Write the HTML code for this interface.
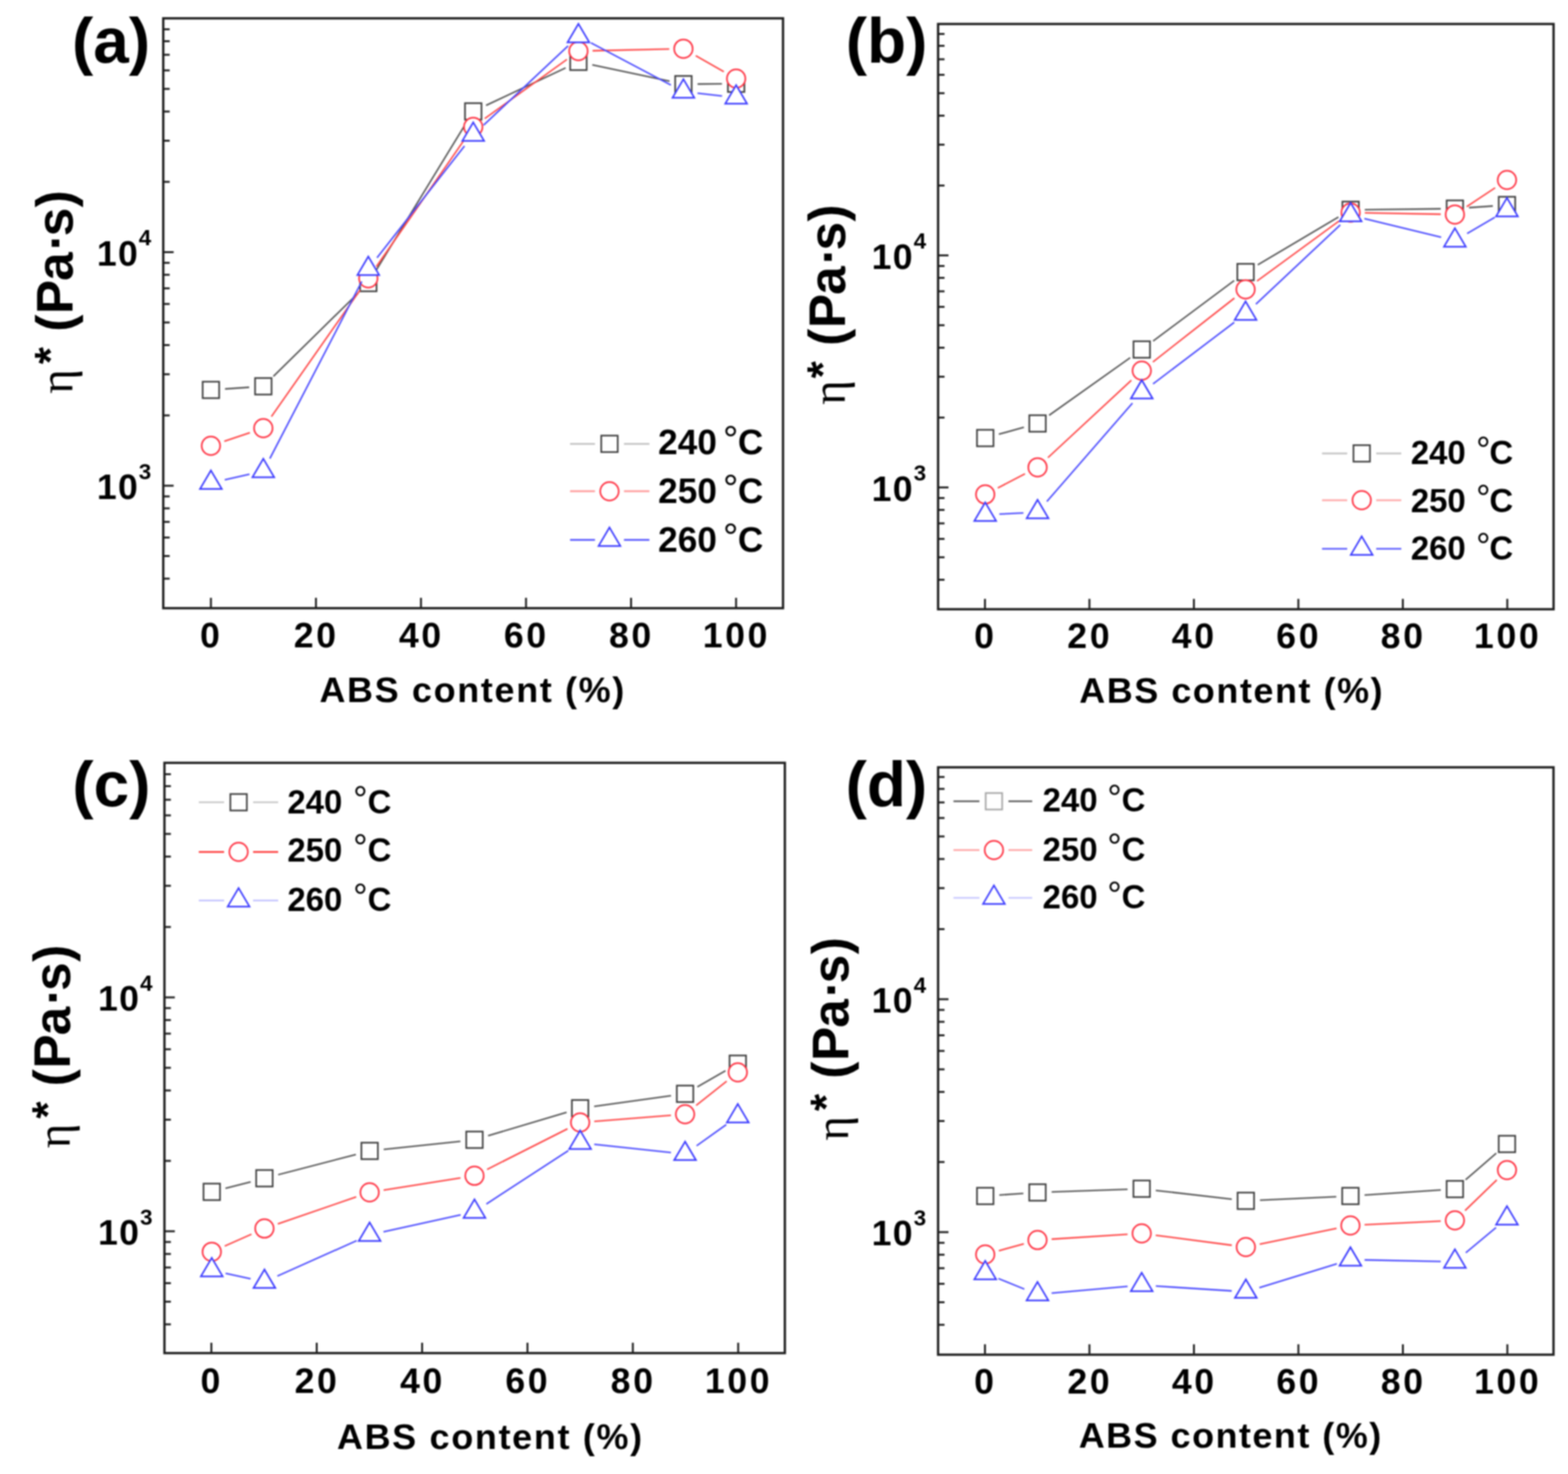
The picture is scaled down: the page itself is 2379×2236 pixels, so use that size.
<!DOCTYPE html>
<html><head><meta charset="utf-8"><title>Complex viscosity vs ABS content</title>
<style>
html,body{margin:0;padding:0;background:#fff;}
body{width:2379px;height:2236px;overflow:hidden;}
svg{display:block;filter:blur(1px);}
text{font-family:'Liberation Sans', Arial, sans-serif;fill:#000;}
</style></head>
<body>
<svg width="2379" height="2236" viewBox="0 0 2379 2236">
<rect x="0" y="0" width="2379" height="2236" fill="#fff"/>
<g id="panel-a">
<line x1="341.45" y1="590.02" x2="378.05" y2="587.48" stroke="#555555" stroke-width="2.3"/>
<line x1="414.83" y1="570.93" x2="543.47" y2="444.47" stroke="#555555" stroke-width="2.3"/>
<line x1="570.01" y1="411.06" x2="706.79" y2="187.34" stroke="#555555" stroke-width="2.3"/>
<line x1="737.45" y1="159.84" x2="858.15" y2="102.96" stroke="#555555" stroke-width="2.3"/>
<line x1="898.63" y1="98.28" x2="1015.87" y2="123.22" stroke="#555555" stroke-width="2.3"/>
<line x1="1058.4" y1="127.51" x2="1095.4" y2="127.19" stroke="#555555" stroke-width="2.3"/>
<rect x="307.5" y="579" width="25" height="25" fill="#fff" stroke="#404040" stroke-width="2.5"/>
<rect x="387" y="573.5" width="25" height="25" fill="#fff" stroke="#404040" stroke-width="2.5"/>
<rect x="546.3" y="416.9" width="25" height="25" fill="#fff" stroke="#404040" stroke-width="2.5"/>
<rect x="705.5" y="156.5" width="25" height="25" fill="#fff" stroke="#404040" stroke-width="2.5"/>
<rect x="865.1" y="81.3" width="25" height="25" fill="#fff" stroke="#404040" stroke-width="2.5"/>
<rect x="1024.4" y="115.2" width="25" height="25" fill="#fff" stroke="#404040" stroke-width="2.5"/>
<rect x="1104.4" y="114.5" width="25" height="25" fill="#fff" stroke="#404040" stroke-width="2.5"/>
<line x1="340.38" y1="669.35" x2="379.12" y2="656.35" stroke="#ff4646" stroke-width="2.3"/>
<line x1="411.84" y1="631.89" x2="546.46" y2="439.81" stroke="#ff4646" stroke-width="2.3"/>
<line x1="571.05" y1="404.53" x2="705.75" y2="210.17" stroke="#ff4646" stroke-width="2.3"/>
<line x1="735.44" y1="179.93" x2="860.16" y2="90.07" stroke="#ff4646" stroke-width="2.3"/>
<line x1="899.09" y1="77.01" x2="1015.41" y2="74.39" stroke="#ff4646" stroke-width="2.3"/>
<line x1="1055.6" y1="84.51" x2="1098.2" y2="108.69" stroke="#ff4646" stroke-width="2.3"/>
<circle cx="320" cy="676.2" r="14.0" fill="#fff" stroke="#ff3444" stroke-width="2.5"/>
<circle cx="399.5" cy="649.5" r="14.0" fill="#fff" stroke="#ff3444" stroke-width="2.5"/>
<circle cx="558.8" cy="422.2" r="14.0" fill="#fff" stroke="#ff3444" stroke-width="2.5"/>
<circle cx="718" cy="192.5" r="14.0" fill="#fff" stroke="#ff3444" stroke-width="2.5"/>
<circle cx="877.6" cy="77.5" r="14.0" fill="#fff" stroke="#ff3444" stroke-width="2.5"/>
<circle cx="1036.9" cy="73.9" r="14.0" fill="#fff" stroke="#ff3444" stroke-width="2.5"/>
<circle cx="1116.9" cy="119.3" r="14.0" fill="#fff" stroke="#ff3444" stroke-width="2.5"/>
<line x1="340.98" y1="727.8" x2="378.52" y2="719.4" stroke="#4a4aff" stroke-width="2.3"/>
<line x1="409.41" y1="695.62" x2="548.89" y2="427.08" stroke="#4a4aff" stroke-width="2.3"/>
<line x1="572.05" y1="391.07" x2="704.75" y2="221.43" stroke="#4a4aff" stroke-width="2.3"/>
<line x1="733.69" y1="189.8" x2="861.91" y2="69.7" stroke="#4a4aff" stroke-width="2.3"/>
<line x1="896.62" y1="65.03" x2="1017.88" y2="128.97" stroke="#4a4aff" stroke-width="2.3"/>
<line x1="1058.27" y1="141.4" x2="1095.53" y2="145.6" stroke="#4a4aff" stroke-width="2.3"/>
<polygon points="320,713.7 303.5,741.7 336.5,741.7" fill="#fff" stroke="#3c3cff" stroke-width="2.5" stroke-linejoin="miter"/>
<polygon points="399.5,695.9 383,723.9 416,723.9" fill="#fff" stroke="#3c3cff" stroke-width="2.5" stroke-linejoin="miter"/>
<polygon points="558.8,389.2 542.3,417.2 575.3,417.2" fill="#fff" stroke="#3c3cff" stroke-width="2.5" stroke-linejoin="miter"/>
<polygon points="718,185.7 701.5,213.7 734.5,213.7" fill="#fff" stroke="#3c3cff" stroke-width="2.5" stroke-linejoin="miter"/>
<polygon points="877.6,36.2 861.1,64.2 894.1,64.2" fill="#fff" stroke="#3c3cff" stroke-width="2.5" stroke-linejoin="miter"/>
<polygon points="1036.9,120.2 1020.4,148.2 1053.4,148.2" fill="#fff" stroke="#3c3cff" stroke-width="2.5" stroke-linejoin="miter"/>
<polygon points="1116.9,129.2 1100.4,157.2 1133.4,157.2" fill="#fff" stroke="#3c3cff" stroke-width="2.5" stroke-linejoin="miter"/>
<rect x="247.7" y="27.8" width="940.3" height="894.8" fill="none" stroke="#1e1e1e" stroke-width="3.5"/>
<line x1="248.95" y1="877.79" x2="257.45" y2="877.79" stroke="#1e1e1e" stroke-width="2.9"/>
<line x1="248.95" y1="843.45" x2="257.45" y2="843.45" stroke="#1e1e1e" stroke-width="2.9"/>
<line x1="248.95" y1="815.4" x2="257.45" y2="815.4" stroke="#1e1e1e" stroke-width="2.9"/>
<line x1="248.95" y1="791.68" x2="257.45" y2="791.68" stroke="#1e1e1e" stroke-width="2.9"/>
<line x1="248.95" y1="771.14" x2="257.45" y2="771.14" stroke="#1e1e1e" stroke-width="2.9"/>
<line x1="248.95" y1="753.01" x2="257.45" y2="753.01" stroke="#1e1e1e" stroke-width="2.9"/>
<line x1="248.95" y1="736.8" x2="263.45" y2="736.8" stroke="#1e1e1e" stroke-width="2.9"/>
<line x1="248.95" y1="630.15" x2="257.45" y2="630.15" stroke="#1e1e1e" stroke-width="2.9"/>
<line x1="248.95" y1="567.76" x2="257.45" y2="567.76" stroke="#1e1e1e" stroke-width="2.9"/>
<line x1="248.95" y1="523.49" x2="257.45" y2="523.49" stroke="#1e1e1e" stroke-width="2.9"/>
<line x1="248.95" y1="489.15" x2="257.45" y2="489.15" stroke="#1e1e1e" stroke-width="2.9"/>
<line x1="248.95" y1="461.1" x2="257.45" y2="461.1" stroke="#1e1e1e" stroke-width="2.9"/>
<line x1="248.95" y1="437.38" x2="257.45" y2="437.38" stroke="#1e1e1e" stroke-width="2.9"/>
<line x1="248.95" y1="416.84" x2="257.45" y2="416.84" stroke="#1e1e1e" stroke-width="2.9"/>
<line x1="248.95" y1="398.71" x2="257.45" y2="398.71" stroke="#1e1e1e" stroke-width="2.9"/>
<line x1="248.95" y1="382.5" x2="263.45" y2="382.5" stroke="#1e1e1e" stroke-width="2.9"/>
<line x1="248.95" y1="275.85" x2="257.45" y2="275.85" stroke="#1e1e1e" stroke-width="2.9"/>
<line x1="248.95" y1="213.46" x2="257.45" y2="213.46" stroke="#1e1e1e" stroke-width="2.9"/>
<line x1="248.95" y1="169.19" x2="257.45" y2="169.19" stroke="#1e1e1e" stroke-width="2.9"/>
<line x1="248.95" y1="134.85" x2="257.45" y2="134.85" stroke="#1e1e1e" stroke-width="2.9"/>
<line x1="248.95" y1="106.8" x2="257.45" y2="106.8" stroke="#1e1e1e" stroke-width="2.9"/>
<line x1="248.95" y1="83.08" x2="257.45" y2="83.08" stroke="#1e1e1e" stroke-width="2.9"/>
<line x1="248.95" y1="62.54" x2="257.45" y2="62.54" stroke="#1e1e1e" stroke-width="2.9"/>
<line x1="248.95" y1="44.41" x2="257.45" y2="44.41" stroke="#1e1e1e" stroke-width="2.9"/>
<line x1="320" y1="921.35" x2="320" y2="906.85" stroke="#1e1e1e" stroke-width="2.9"/>
<text x="320.5" y="982.3" font-size="54" font-weight="bold" text-anchor="middle" letter-spacing="4.0" >0</text>
<line x1="479.36" y1="921.35" x2="479.36" y2="906.85" stroke="#1e1e1e" stroke-width="2.9"/>
<text x="479.86" y="982.3" font-size="54" font-weight="bold" text-anchor="middle" letter-spacing="4.0" >20</text>
<line x1="638.72" y1="921.35" x2="638.72" y2="906.85" stroke="#1e1e1e" stroke-width="2.9"/>
<text x="639.22" y="982.3" font-size="54" font-weight="bold" text-anchor="middle" letter-spacing="4.0" >40</text>
<line x1="798.08" y1="921.35" x2="798.08" y2="906.85" stroke="#1e1e1e" stroke-width="2.9"/>
<text x="798.58" y="982.3" font-size="54" font-weight="bold" text-anchor="middle" letter-spacing="4.0" >60</text>
<line x1="957.44" y1="921.35" x2="957.44" y2="906.85" stroke="#1e1e1e" stroke-width="2.9"/>
<text x="957.94" y="982.3" font-size="54" font-weight="bold" text-anchor="middle" letter-spacing="4.0" >80</text>
<line x1="1116.8" y1="921.35" x2="1116.8" y2="906.85" stroke="#1e1e1e" stroke-width="2.9"/>
<text x="1117.3" y="982.3" font-size="54" font-weight="bold" text-anchor="middle" letter-spacing="4.0" >100</text>
<text x="146.9" y="757.1" font-size="54" font-weight="bold" text-anchor="start" letter-spacing="2">10</text>
<text x="210.59" y="726.6" font-size="34" font-weight="bold" text-anchor="start" >3</text>
<text x="146.9" y="402.8" font-size="54" font-weight="bold" text-anchor="start" letter-spacing="2">10</text>
<text x="210.59" y="372.3" font-size="34" font-weight="bold" text-anchor="start" >4</text>
<text x="109.3" y="94.6" font-size="97" font-weight="bold" text-anchor="start" >(a)</text>
<text transform="translate(109.5,596.1) rotate(-90)" font-size="78" font-weight="bold"><tspan x="-1.1" font-family="'Liberation Serif', serif" font-weight="normal" font-size="71">η</tspan><tspan x="43.6" dy="-10.6" font-size="67">*</tspan><tspan x="70" dy="10.6"> </tspan><tspan x="92.8">(</tspan><tspan x="119.7">P</tspan><tspan x="170.2">a</tspan><tspan x="216.4">·</tspan><tspan x="237.5">s</tspan><tspan x="281.6">)</tspan></text>
<text x="484.64" y="1064.6" font-size="54.5" font-weight="bold" text-anchor="start" letter-spacing="2.55">ABS content (%)</text>
<line x1="864.9" y1="673.3" x2="902.7" y2="673.3" stroke="#c4c4c4" stroke-width="2.6999999999999997"/>
<line x1="946.7" y1="673.3" x2="985.3" y2="673.3" stroke="#c4c4c4" stroke-width="2.6999999999999997"/>
<rect x="912.2" y="660.8" width="25" height="25" fill="#fff" stroke="#404040" stroke-width="2.5"/>
<text y="689.2" font-size="53.4" font-weight="bold" ><tspan x="998.53">240 </tspan><tspan x="1097.02" font-size="58" font-weight="normal" dy="-2.9">°</tspan><tspan x="1119.51" dy="2.9">C</tspan></text>
<line x1="864.9" y1="745.2" x2="902.7" y2="745.2" stroke="#ff9a9a" stroke-width="2.6999999999999997"/>
<line x1="946.7" y1="745.2" x2="985.3" y2="745.2" stroke="#ff9a9a" stroke-width="2.6999999999999997"/>
<circle cx="924.7" cy="745.2" r="14.0" fill="#fff" stroke="#ff3444" stroke-width="2.5"/>
<text y="763" font-size="53.4" font-weight="bold" ><tspan x="998.53">250 </tspan><tspan x="1097.02" font-size="58" font-weight="normal" dy="-2.9">°</tspan><tspan x="1119.51" dy="2.9">C</tspan></text>
<line x1="864.9" y1="819" x2="902.7" y2="819" stroke="#4a4aff" stroke-width="2.6999999999999997"/>
<line x1="946.7" y1="819" x2="985.3" y2="819" stroke="#4a4aff" stroke-width="2.6999999999999997"/>
<polygon points="924.7,800.2 908.2,828.2 941.2,828.2" fill="#fff" stroke="#3c3cff" stroke-width="2.5" stroke-linejoin="miter"/>
<text y="836.8" font-size="53.4" font-weight="bold" ><tspan x="998.53">260 </tspan><tspan x="1097.02" font-size="58" font-weight="normal" dy="-2.9">°</tspan><tspan x="1119.51" dy="2.9">C</tspan></text>
</g>
<g id="panel-b">
<line x1="1515.51" y1="658.73" x2="1553.49" y2="648.17" stroke="#555555" stroke-width="2.3"/>
<line x1="1591.73" y1="629.96" x2="1714.77" y2="542.64" stroke="#555555" stroke-width="2.3"/>
<line x1="1749.53" y1="517.34" x2="1872.57" y2="425.56" stroke="#555555" stroke-width="2.3"/>
<line x1="1908.3" y1="401.74" x2="2030.7" y2="329.26" stroke="#555555" stroke-width="2.3"/>
<line x1="2070.7" y1="318.06" x2="2185.9" y2="316.74" stroke="#555555" stroke-width="2.3"/>
<line x1="2228.85" y1="315.01" x2="2264.95" y2="312.49" stroke="#555555" stroke-width="2.3"/>
<rect x="1482.3" y="652" width="25" height="25" fill="#fff" stroke="#404040" stroke-width="2.5"/>
<rect x="1561.7" y="629.9" width="25" height="25" fill="#fff" stroke="#404040" stroke-width="2.5"/>
<rect x="1719.8" y="517.7" width="25" height="25" fill="#fff" stroke="#404040" stroke-width="2.5"/>
<rect x="1877.3" y="400.2" width="25" height="25" fill="#fff" stroke="#404040" stroke-width="2.5"/>
<rect x="2036.7" y="305.8" width="25" height="25" fill="#fff" stroke="#404040" stroke-width="2.5"/>
<rect x="2194.9" y="304" width="25" height="25" fill="#fff" stroke="#404040" stroke-width="2.5"/>
<rect x="2273.9" y="298.5" width="25" height="25" fill="#fff" stroke="#404040" stroke-width="2.5"/>
<line x1="1513.88" y1="740.2" x2="1555.12" y2="718.8" stroke="#ff4646" stroke-width="2.3"/>
<line x1="1589.97" y1="694.28" x2="1716.53" y2="576.92" stroke="#ff4646" stroke-width="2.3"/>
<line x1="1749.23" y1="549.05" x2="1872.87" y2="452.25" stroke="#ff4646" stroke-width="2.3"/>
<line x1="1907.16" y1="426.31" x2="2031.84" y2="335.19" stroke="#ff4646" stroke-width="2.3"/>
<line x1="2070.7" y1="322.89" x2="2185.9" y2="325.01" stroke="#ff4646" stroke-width="2.3"/>
<line x1="2225.32" y1="313.52" x2="2268.48" y2="284.88" stroke="#ff4646" stroke-width="2.3"/>
<circle cx="1494.8" cy="750.1" r="14.0" fill="#fff" stroke="#ff3444" stroke-width="2.5"/>
<circle cx="1574.2" cy="708.9" r="14.0" fill="#fff" stroke="#ff3444" stroke-width="2.5"/>
<circle cx="1732.3" cy="562.3" r="14.0" fill="#fff" stroke="#ff3444" stroke-width="2.5"/>
<circle cx="1889.8" cy="439" r="14.0" fill="#fff" stroke="#ff3444" stroke-width="2.5"/>
<circle cx="2049.2" cy="322.5" r="14.0" fill="#fff" stroke="#ff3444" stroke-width="2.5"/>
<circle cx="2207.4" cy="325.4" r="14.0" fill="#fff" stroke="#ff3444" stroke-width="2.5"/>
<circle cx="2286.4" cy="273" r="14.0" fill="#fff" stroke="#ff3444" stroke-width="2.5"/>
<line x1="1516.27" y1="779.92" x2="1552.73" y2="778.08" stroke="#4a4aff" stroke-width="2.3"/>
<line x1="1588.31" y1="760.78" x2="1718.19" y2="611.52" stroke="#4a4aff" stroke-width="2.3"/>
<line x1="1749.44" y1="582.32" x2="1872.66" y2="488.98" stroke="#4a4aff" stroke-width="2.3"/>
<line x1="1905.48" y1="461.29" x2="2033.52" y2="341.21" stroke="#4a4aff" stroke-width="2.3"/>
<line x1="2070.09" y1="331.58" x2="2186.51" y2="359.92" stroke="#4a4aff" stroke-width="2.3"/>
<line x1="2225.98" y1="354.18" x2="2267.82" y2="329.82" stroke="#4a4aff" stroke-width="2.3"/>
<polygon points="1494.8,762.2 1478.3,790.2 1511.3,790.2" fill="#fff" stroke="#3c3cff" stroke-width="2.5" stroke-linejoin="miter"/>
<polygon points="1574.2,758.2 1557.7,786.2 1590.7,786.2" fill="#fff" stroke="#3c3cff" stroke-width="2.5" stroke-linejoin="miter"/>
<polygon points="1732.3,576.5 1715.8,604.5 1748.8,604.5" fill="#fff" stroke="#3c3cff" stroke-width="2.5" stroke-linejoin="miter"/>
<polygon points="1889.8,457.2 1873.3,485.2 1906.3,485.2" fill="#fff" stroke="#3c3cff" stroke-width="2.5" stroke-linejoin="miter"/>
<polygon points="2049.2,307.7 2032.7,335.7 2065.7,335.7" fill="#fff" stroke="#3c3cff" stroke-width="2.5" stroke-linejoin="miter"/>
<polygon points="2207.4,346.2 2190.9,374.2 2223.9,374.2" fill="#fff" stroke="#3c3cff" stroke-width="2.5" stroke-linejoin="miter"/>
<polygon points="2286.4,300.2 2269.9,328.2 2302.9,328.2" fill="#fff" stroke="#3c3cff" stroke-width="2.5" stroke-linejoin="miter"/>
<rect x="1423.3" y="36.4" width="933.8" height="887.8" fill="none" stroke="#1e1e1e" stroke-width="3.5"/>
<line x1="1424.55" y1="879.47" x2="1433.05" y2="879.47" stroke="#1e1e1e" stroke-width="2.9"/>
<line x1="1424.55" y1="845.36" x2="1433.05" y2="845.36" stroke="#1e1e1e" stroke-width="2.9"/>
<line x1="1424.55" y1="817.49" x2="1433.05" y2="817.49" stroke="#1e1e1e" stroke-width="2.9"/>
<line x1="1424.55" y1="793.93" x2="1433.05" y2="793.93" stroke="#1e1e1e" stroke-width="2.9"/>
<line x1="1424.55" y1="773.51" x2="1433.05" y2="773.51" stroke="#1e1e1e" stroke-width="2.9"/>
<line x1="1424.55" y1="755.51" x2="1433.05" y2="755.51" stroke="#1e1e1e" stroke-width="2.9"/>
<line x1="1424.55" y1="739.4" x2="1439.05" y2="739.4" stroke="#1e1e1e" stroke-width="2.9"/>
<line x1="1424.55" y1="633.44" x2="1433.05" y2="633.44" stroke="#1e1e1e" stroke-width="2.9"/>
<line x1="1424.55" y1="571.45" x2="1433.05" y2="571.45" stroke="#1e1e1e" stroke-width="2.9"/>
<line x1="1424.55" y1="527.47" x2="1433.05" y2="527.47" stroke="#1e1e1e" stroke-width="2.9"/>
<line x1="1424.55" y1="493.36" x2="1433.05" y2="493.36" stroke="#1e1e1e" stroke-width="2.9"/>
<line x1="1424.55" y1="465.49" x2="1433.05" y2="465.49" stroke="#1e1e1e" stroke-width="2.9"/>
<line x1="1424.55" y1="441.93" x2="1433.05" y2="441.93" stroke="#1e1e1e" stroke-width="2.9"/>
<line x1="1424.55" y1="421.51" x2="1433.05" y2="421.51" stroke="#1e1e1e" stroke-width="2.9"/>
<line x1="1424.55" y1="403.51" x2="1433.05" y2="403.51" stroke="#1e1e1e" stroke-width="2.9"/>
<line x1="1424.55" y1="387.4" x2="1439.05" y2="387.4" stroke="#1e1e1e" stroke-width="2.9"/>
<line x1="1424.55" y1="281.44" x2="1433.05" y2="281.44" stroke="#1e1e1e" stroke-width="2.9"/>
<line x1="1424.55" y1="219.45" x2="1433.05" y2="219.45" stroke="#1e1e1e" stroke-width="2.9"/>
<line x1="1424.55" y1="175.47" x2="1433.05" y2="175.47" stroke="#1e1e1e" stroke-width="2.9"/>
<line x1="1424.55" y1="141.36" x2="1433.05" y2="141.36" stroke="#1e1e1e" stroke-width="2.9"/>
<line x1="1424.55" y1="113.49" x2="1433.05" y2="113.49" stroke="#1e1e1e" stroke-width="2.9"/>
<line x1="1424.55" y1="89.93" x2="1433.05" y2="89.93" stroke="#1e1e1e" stroke-width="2.9"/>
<line x1="1424.55" y1="69.51" x2="1433.05" y2="69.51" stroke="#1e1e1e" stroke-width="2.9"/>
<line x1="1424.55" y1="51.51" x2="1433.05" y2="51.51" stroke="#1e1e1e" stroke-width="2.9"/>
<line x1="1494.4" y1="922.95" x2="1494.4" y2="908.45" stroke="#1e1e1e" stroke-width="2.9"/>
<text x="1494.9" y="982.8" font-size="54" font-weight="bold" text-anchor="middle" letter-spacing="4.0" >0</text>
<line x1="1652.9" y1="922.95" x2="1652.9" y2="908.45" stroke="#1e1e1e" stroke-width="2.9"/>
<text x="1653.4" y="982.8" font-size="54" font-weight="bold" text-anchor="middle" letter-spacing="4.0" >20</text>
<line x1="1811.4" y1="922.95" x2="1811.4" y2="908.45" stroke="#1e1e1e" stroke-width="2.9"/>
<text x="1811.9" y="982.8" font-size="54" font-weight="bold" text-anchor="middle" letter-spacing="4.0" >40</text>
<line x1="1969.9" y1="922.95" x2="1969.9" y2="908.45" stroke="#1e1e1e" stroke-width="2.9"/>
<text x="1970.4" y="982.8" font-size="54" font-weight="bold" text-anchor="middle" letter-spacing="4.0" >60</text>
<line x1="2128.4" y1="922.95" x2="2128.4" y2="908.45" stroke="#1e1e1e" stroke-width="2.9"/>
<text x="2128.9" y="982.8" font-size="54" font-weight="bold" text-anchor="middle" letter-spacing="4.0" >80</text>
<line x1="2286.9" y1="922.95" x2="2286.9" y2="908.45" stroke="#1e1e1e" stroke-width="2.9"/>
<text x="2287.4" y="982.8" font-size="54" font-weight="bold" text-anchor="middle" letter-spacing="4.0" >100</text>
<text x="1322.5" y="759.7" font-size="54" font-weight="bold" text-anchor="start" letter-spacing="2">10</text>
<text x="1386.19" y="729.2" font-size="34" font-weight="bold" text-anchor="start" >3</text>
<text x="1322.5" y="407.7" font-size="54" font-weight="bold" text-anchor="start" letter-spacing="2">10</text>
<text x="1386.19" y="377.2" font-size="34" font-weight="bold" text-anchor="start" >4</text>
<text x="1283.2" y="94.6" font-size="97" font-weight="bold" text-anchor="start" >(b)</text>
<text transform="translate(1281.9,613) rotate(-90)" font-size="78" font-weight="bold"><tspan x="-1.1" font-family="'Liberation Serif', serif" font-weight="normal" font-size="71">η</tspan><tspan x="39.1" dy="-10.6" font-size="67">*</tspan><tspan x="65.5" dy="10.6"> </tspan><tspan x="88.3">(</tspan><tspan x="115.2">P</tspan><tspan x="165.7">a</tspan><tspan x="211.9">·</tspan><tspan x="233">s</tspan><tspan x="277.1">)</tspan></text>
<text x="1637.44" y="1065.8" font-size="54.5" font-weight="bold" text-anchor="start" letter-spacing="2.38">ABS content (%)</text>
<line x1="2005.8" y1="687.8" x2="2044" y2="687.8" stroke="#c4c4c4" stroke-width="2.6999999999999997"/>
<line x1="2088" y1="687.8" x2="2126.1" y2="687.8" stroke="#c4c4c4" stroke-width="2.6999999999999997"/>
<rect x="2053.5" y="675.3" width="25" height="25" fill="#fff" stroke="#404040" stroke-width="2.5"/>
<text y="703.6" font-size="50" font-weight="bold" ><tspan x="2140.45">240 </tspan><tspan x="2239.4" font-size="55" font-weight="normal" dy="-2.8">°</tspan><tspan x="2259.65" dy="2.8">C</tspan></text>
<line x1="2005.8" y1="758.8" x2="2044" y2="758.8" stroke="#ffaaaa" stroke-width="2.6999999999999997"/>
<line x1="2088" y1="758.8" x2="2126.1" y2="758.8" stroke="#ffaaaa" stroke-width="2.6999999999999997"/>
<circle cx="2066" cy="758.8" r="14.0" fill="#fff" stroke="#ff3444" stroke-width="2.5"/>
<text y="777" font-size="50" font-weight="bold" ><tspan x="2140.45">250 </tspan><tspan x="2239.4" font-size="55" font-weight="normal" dy="-2.8">°</tspan><tspan x="2259.65" dy="2.8">C</tspan></text>
<line x1="2005.8" y1="832.5" x2="2044" y2="832.5" stroke="#5a5aff" stroke-width="2.6999999999999997"/>
<line x1="2088" y1="832.5" x2="2126.1" y2="832.5" stroke="#5a5aff" stroke-width="2.6999999999999997"/>
<polygon points="2066,813.7 2049.5,841.7 2082.5,841.7" fill="#fff" stroke="#3c3cff" stroke-width="2.5" stroke-linejoin="miter"/>
<text y="849.4" font-size="50" font-weight="bold" ><tspan x="2140.45">260 </tspan><tspan x="2239.4" font-size="55" font-weight="normal" dy="-2.8">°</tspan><tspan x="2259.65" dy="2.8">C</tspan></text>
</g>
<g id="panel-c">
<line x1="342.12" y1="1802.63" x2="380.38" y2="1792.77" stroke="#555555" stroke-width="2.3"/>
<line x1="422.01" y1="1781.99" x2="539.99" y2="1751.31" stroke="#555555" stroke-width="2.3"/>
<line x1="582.18" y1="1743.63" x2="698.52" y2="1731.27" stroke="#555555" stroke-width="2.3"/>
<line x1="740.5" y1="1722.86" x2="859.6" y2="1687.34" stroke="#555555" stroke-width="2.3"/>
<line x1="901.5" y1="1678.27" x2="1018.1" y2="1662.23" stroke="#555555" stroke-width="2.3"/>
<line x1="1058.07" y1="1648.64" x2="1100.73" y2="1624.26" stroke="#555555" stroke-width="2.3"/>
<rect x="308.8" y="1795.5" width="25" height="25" fill="#fff" stroke="#404040" stroke-width="2.5"/>
<rect x="388.7" y="1774.9" width="25" height="25" fill="#fff" stroke="#404040" stroke-width="2.5"/>
<rect x="548.3" y="1733.4" width="25" height="25" fill="#fff" stroke="#404040" stroke-width="2.5"/>
<rect x="707.4" y="1716.5" width="25" height="25" fill="#fff" stroke="#404040" stroke-width="2.5"/>
<rect x="867.7" y="1668.7" width="25" height="25" fill="#fff" stroke="#404040" stroke-width="2.5"/>
<rect x="1026.9" y="1646.8" width="25" height="25" fill="#fff" stroke="#404040" stroke-width="2.5"/>
<rect x="1106.9" y="1601.1" width="25" height="25" fill="#fff" stroke="#404040" stroke-width="2.5"/>
<line x1="340.97" y1="1890.21" x2="381.53" y2="1872.29" stroke="#ff4646" stroke-width="2.3"/>
<line x1="421.53" y1="1856.61" x2="540.47" y2="1815.69" stroke="#ff4646" stroke-width="2.3"/>
<line x1="582.04" y1="1805.35" x2="698.66" y2="1786.95" stroke="#ff4646" stroke-width="2.3"/>
<line x1="739.09" y1="1773.91" x2="861.01" y2="1712.39" stroke="#ff4646" stroke-width="2.3"/>
<line x1="901.64" y1="1701.03" x2="1017.96" y2="1691.97" stroke="#ff4646" stroke-width="2.3"/>
<line x1="1056.23" y1="1676.92" x2="1102.57" y2="1640.08" stroke="#ff4646" stroke-width="2.3"/>
<circle cx="321.3" cy="1898.9" r="14.0" fill="#fff" stroke="#ff3444" stroke-width="2.5"/>
<circle cx="401.2" cy="1863.6" r="14.0" fill="#fff" stroke="#ff3444" stroke-width="2.5"/>
<circle cx="560.8" cy="1808.7" r="14.0" fill="#fff" stroke="#ff3444" stroke-width="2.5"/>
<circle cx="719.9" cy="1783.6" r="14.0" fill="#fff" stroke="#ff3444" stroke-width="2.5"/>
<circle cx="880.2" cy="1702.7" r="14.0" fill="#fff" stroke="#ff3444" stroke-width="2.5"/>
<circle cx="1039.4" cy="1690.3" r="14.0" fill="#fff" stroke="#ff3444" stroke-width="2.5"/>
<circle cx="1119.4" cy="1626.7" r="14.0" fill="#fff" stroke="#ff3444" stroke-width="2.5"/>
<line x1="342.3" y1="1931.63" x2="380.2" y2="1939.97" stroke="#4a4aff" stroke-width="2.3"/>
<line x1="420.83" y1="1935.82" x2="541.17" y2="1881.98" stroke="#4a4aff" stroke-width="2.3"/>
<line x1="581.8" y1="1868.58" x2="698.9" y2="1842.82" stroke="#4a4aff" stroke-width="2.3"/>
<line x1="737.91" y1="1826.46" x2="862.19" y2="1745.44" stroke="#4a4aff" stroke-width="2.3"/>
<line x1="901.58" y1="1735.97" x2="1018.02" y2="1748.33" stroke="#4a4aff" stroke-width="2.3"/>
<line x1="1056.9" y1="1738.11" x2="1101.9" y2="1705.99" stroke="#4a4aff" stroke-width="2.3"/>
<polygon points="321.3,1908.2 304.8,1936.2 337.8,1936.2" fill="#fff" stroke="#3c3cff" stroke-width="2.5" stroke-linejoin="miter"/>
<polygon points="401.2,1925.8 384.7,1953.8 417.7,1953.8" fill="#fff" stroke="#3c3cff" stroke-width="2.5" stroke-linejoin="miter"/>
<polygon points="560.8,1854.4 544.3,1882.4 577.3,1882.4" fill="#fff" stroke="#3c3cff" stroke-width="2.5" stroke-linejoin="miter"/>
<polygon points="719.9,1819.4 703.4,1847.4 736.4,1847.4" fill="#fff" stroke="#3c3cff" stroke-width="2.5" stroke-linejoin="miter"/>
<polygon points="880.2,1714.9 863.7,1742.9 896.7,1742.9" fill="#fff" stroke="#3c3cff" stroke-width="2.5" stroke-linejoin="miter"/>
<polygon points="1039.4,1731.8 1022.9,1759.8 1055.9,1759.8" fill="#fff" stroke="#3c3cff" stroke-width="2.5" stroke-linejoin="miter"/>
<polygon points="1119.4,1674.7 1102.9,1702.7 1135.9,1702.7" fill="#fff" stroke="#3c3cff" stroke-width="2.5" stroke-linejoin="miter"/>
<rect x="249.5" y="1157.2" width="941.3" height="895.4" fill="none" stroke="#1e1e1e" stroke-width="3.5"/>
<line x1="250.75" y1="2008.99" x2="259.25" y2="2008.99" stroke="#1e1e1e" stroke-width="2.9"/>
<line x1="250.75" y1="1974.61" x2="259.25" y2="1974.61" stroke="#1e1e1e" stroke-width="2.9"/>
<line x1="250.75" y1="1946.51" x2="259.25" y2="1946.51" stroke="#1e1e1e" stroke-width="2.9"/>
<line x1="250.75" y1="1922.76" x2="259.25" y2="1922.76" stroke="#1e1e1e" stroke-width="2.9"/>
<line x1="250.75" y1="1902.18" x2="259.25" y2="1902.18" stroke="#1e1e1e" stroke-width="2.9"/>
<line x1="250.75" y1="1884.03" x2="259.25" y2="1884.03" stroke="#1e1e1e" stroke-width="2.9"/>
<line x1="250.75" y1="1867.8" x2="265.25" y2="1867.8" stroke="#1e1e1e" stroke-width="2.9"/>
<line x1="250.75" y1="1760.99" x2="259.25" y2="1760.99" stroke="#1e1e1e" stroke-width="2.9"/>
<line x1="250.75" y1="1698.52" x2="259.25" y2="1698.52" stroke="#1e1e1e" stroke-width="2.9"/>
<line x1="250.75" y1="1654.19" x2="259.25" y2="1654.19" stroke="#1e1e1e" stroke-width="2.9"/>
<line x1="250.75" y1="1619.81" x2="259.25" y2="1619.81" stroke="#1e1e1e" stroke-width="2.9"/>
<line x1="250.75" y1="1591.71" x2="259.25" y2="1591.71" stroke="#1e1e1e" stroke-width="2.9"/>
<line x1="250.75" y1="1567.96" x2="259.25" y2="1567.96" stroke="#1e1e1e" stroke-width="2.9"/>
<line x1="250.75" y1="1547.38" x2="259.25" y2="1547.38" stroke="#1e1e1e" stroke-width="2.9"/>
<line x1="250.75" y1="1529.23" x2="259.25" y2="1529.23" stroke="#1e1e1e" stroke-width="2.9"/>
<line x1="250.75" y1="1513" x2="265.25" y2="1513" stroke="#1e1e1e" stroke-width="2.9"/>
<line x1="250.75" y1="1406.19" x2="259.25" y2="1406.19" stroke="#1e1e1e" stroke-width="2.9"/>
<line x1="250.75" y1="1343.72" x2="259.25" y2="1343.72" stroke="#1e1e1e" stroke-width="2.9"/>
<line x1="250.75" y1="1299.39" x2="259.25" y2="1299.39" stroke="#1e1e1e" stroke-width="2.9"/>
<line x1="250.75" y1="1265.01" x2="259.25" y2="1265.01" stroke="#1e1e1e" stroke-width="2.9"/>
<line x1="250.75" y1="1236.91" x2="259.25" y2="1236.91" stroke="#1e1e1e" stroke-width="2.9"/>
<line x1="250.75" y1="1213.16" x2="259.25" y2="1213.16" stroke="#1e1e1e" stroke-width="2.9"/>
<line x1="250.75" y1="1192.58" x2="259.25" y2="1192.58" stroke="#1e1e1e" stroke-width="2.9"/>
<line x1="250.75" y1="1174.43" x2="259.25" y2="1174.43" stroke="#1e1e1e" stroke-width="2.9"/>
<line x1="320.7" y1="2051.35" x2="320.7" y2="2036.85" stroke="#1e1e1e" stroke-width="2.9"/>
<text x="321.2" y="2112.6" font-size="54" font-weight="bold" text-anchor="middle" letter-spacing="4.0" >0</text>
<line x1="480.56" y1="2051.35" x2="480.56" y2="2036.85" stroke="#1e1e1e" stroke-width="2.9"/>
<text x="481.06" y="2112.6" font-size="54" font-weight="bold" text-anchor="middle" letter-spacing="4.0" >20</text>
<line x1="640.42" y1="2051.35" x2="640.42" y2="2036.85" stroke="#1e1e1e" stroke-width="2.9"/>
<text x="640.92" y="2112.6" font-size="54" font-weight="bold" text-anchor="middle" letter-spacing="4.0" >40</text>
<line x1="800.28" y1="2051.35" x2="800.28" y2="2036.85" stroke="#1e1e1e" stroke-width="2.9"/>
<text x="800.78" y="2112.6" font-size="54" font-weight="bold" text-anchor="middle" letter-spacing="4.0" >60</text>
<line x1="960.14" y1="2051.35" x2="960.14" y2="2036.85" stroke="#1e1e1e" stroke-width="2.9"/>
<text x="960.64" y="2112.6" font-size="54" font-weight="bold" text-anchor="middle" letter-spacing="4.0" >80</text>
<line x1="1120" y1="2051.35" x2="1120" y2="2036.85" stroke="#1e1e1e" stroke-width="2.9"/>
<text x="1120.5" y="2112.6" font-size="54" font-weight="bold" text-anchor="middle" letter-spacing="4.0" >100</text>
<text x="148.7" y="1888.1" font-size="54" font-weight="bold" text-anchor="start" letter-spacing="2">10</text>
<text x="212.39" y="1857.6" font-size="34" font-weight="bold" text-anchor="start" >3</text>
<text x="148.7" y="1533.3" font-size="54" font-weight="bold" text-anchor="start" letter-spacing="2">10</text>
<text x="212.39" y="1502.8" font-size="34" font-weight="bold" text-anchor="start" >4</text>
<text x="228.35" y="1223.3" font-size="97" font-weight="bold" text-anchor="end" >(c)</text>
<text transform="translate(105.5,1740.7) rotate(-90)" font-size="78" font-weight="bold"><tspan x="-1.1" font-family="'Liberation Serif', serif" font-weight="normal" font-size="71">η</tspan><tspan x="43.6" dy="-10.6" font-size="67">*</tspan><tspan x="70" dy="10.6"> </tspan><tspan x="92.8">(</tspan><tspan x="119.7">P</tspan><tspan x="170.2">a</tspan><tspan x="216.4">·</tspan><tspan x="237.5">s</tspan><tspan x="281.6">)</tspan></text>
<text x="511.24" y="2197.9" font-size="54.5" font-weight="bold" text-anchor="start" letter-spacing="2.58">ABS content (%)</text>
<line x1="301.6" y1="1217" x2="340" y2="1217" stroke="#c8c8c8" stroke-width="2.6999999999999997"/>
<line x1="384" y1="1217" x2="422" y2="1217" stroke="#c8c8c8" stroke-width="2.6999999999999997"/>
<rect x="349.5" y="1204.5" width="25" height="25" fill="#fff" stroke="#404040" stroke-width="2.5"/>
<text y="1233.9" font-size="50" font-weight="bold" ><tspan x="435.95">240 </tspan><tspan x="535.7" font-size="55" font-weight="normal" dy="-2.8">°</tspan><tspan x="557.75" dy="2.8">C</tspan></text>
<line x1="301.6" y1="1292.3" x2="340" y2="1292.3" stroke="#ff4040" stroke-width="2.6999999999999997"/>
<line x1="384" y1="1292.3" x2="422" y2="1292.3" stroke="#ff4040" stroke-width="2.6999999999999997"/>
<circle cx="362" cy="1292.3" r="14.0" fill="#fff" stroke="#ff3444" stroke-width="2.5"/>
<text y="1307" font-size="50" font-weight="bold" ><tspan x="435.95">250 </tspan><tspan x="535.7" font-size="55" font-weight="normal" dy="-2.8">°</tspan><tspan x="557.75" dy="2.8">C</tspan></text>
<line x1="301.6" y1="1366" x2="340" y2="1366" stroke="#c0c0ff" stroke-width="2.6999999999999997"/>
<line x1="384" y1="1366" x2="422" y2="1366" stroke="#c0c0ff" stroke-width="2.6999999999999997"/>
<polygon points="362,1347.2 345.5,1375.2 378.5,1375.2" fill="#fff" stroke="#3c3cff" stroke-width="2.5" stroke-linejoin="miter"/>
<text y="1381.7" font-size="50" font-weight="bold" ><tspan x="435.95">260 </tspan><tspan x="535.7" font-size="55" font-weight="normal" dy="-2.8">°</tspan><tspan x="557.75" dy="2.8">C</tspan></text>
</g>
<g id="panel-d">
<line x1="1516.25" y1="1812.84" x2="1552.65" y2="1810.36" stroke="#555555" stroke-width="2.3"/>
<line x1="1595.59" y1="1808.14" x2="1710.71" y2="1804.06" stroke="#555555" stroke-width="2.3"/>
<line x1="1753.56" y1="1805.77" x2="1868.84" y2="1819.13" stroke="#555555" stroke-width="2.3"/>
<line x1="1911.68" y1="1820.61" x2="2027.42" y2="1815.29" stroke="#555555" stroke-width="2.3"/>
<line x1="2070.35" y1="1812.88" x2="2185.95" y2="1805.22" stroke="#555555" stroke-width="2.3"/>
<line x1="2223.65" y1="1789.73" x2="2270.15" y2="1749.47" stroke="#555555" stroke-width="2.3"/>
<rect x="1482.3" y="1801.8" width="25" height="25" fill="#fff" stroke="#404040" stroke-width="2.5"/>
<rect x="1561.6" y="1796.4" width="25" height="25" fill="#fff" stroke="#404040" stroke-width="2.5"/>
<rect x="1719.7" y="1790.8" width="25" height="25" fill="#fff" stroke="#404040" stroke-width="2.5"/>
<rect x="1877.7" y="1809.1" width="25" height="25" fill="#fff" stroke="#404040" stroke-width="2.5"/>
<rect x="2036.4" y="1801.8" width="25" height="25" fill="#fff" stroke="#404040" stroke-width="2.5"/>
<rect x="2194.9" y="1791.3" width="25" height="25" fill="#fff" stroke="#404040" stroke-width="2.5"/>
<rect x="2273.9" y="1722.9" width="25" height="25" fill="#fff" stroke="#404040" stroke-width="2.5"/>
<line x1="1515.52" y1="1897.28" x2="1553.38" y2="1886.82" stroke="#ff4646" stroke-width="2.3"/>
<line x1="1595.56" y1="1879.73" x2="1710.74" y2="1872.37" stroke="#ff4646" stroke-width="2.3"/>
<line x1="1753.52" y1="1873.81" x2="1868.88" y2="1888.99" stroke="#ff4646" stroke-width="2.3"/>
<line x1="1911.26" y1="1887.45" x2="2027.84" y2="1863.35" stroke="#ff4646" stroke-width="2.3"/>
<line x1="2070.37" y1="1857.96" x2="2185.93" y2="1852.34" stroke="#ff4646" stroke-width="2.3"/>
<line x1="2222.85" y1="1836.35" x2="2270.95" y2="1789.85" stroke="#ff4646" stroke-width="2.3"/>
<circle cx="1494.8" cy="1903" r="14.0" fill="#fff" stroke="#ff3444" stroke-width="2.5"/>
<circle cx="1574.1" cy="1881.1" r="14.0" fill="#fff" stroke="#ff3444" stroke-width="2.5"/>
<circle cx="1732.2" cy="1871" r="14.0" fill="#fff" stroke="#ff3444" stroke-width="2.5"/>
<circle cx="1890.2" cy="1891.8" r="14.0" fill="#fff" stroke="#ff3444" stroke-width="2.5"/>
<circle cx="2048.9" cy="1859" r="14.0" fill="#fff" stroke="#ff3444" stroke-width="2.5"/>
<circle cx="2207.4" cy="1851.3" r="14.0" fill="#fff" stroke="#ff3444" stroke-width="2.5"/>
<circle cx="2286.4" cy="1774.9" r="14.0" fill="#fff" stroke="#ff3444" stroke-width="2.5"/>
<line x1="1514.74" y1="1939.55" x2="1554.16" y2="1955.45" stroke="#4a4aff" stroke-width="2.3"/>
<line x1="1595.52" y1="1961.6" x2="1710.78" y2="1951.4" stroke="#4a4aff" stroke-width="2.3"/>
<line x1="1753.66" y1="1950.87" x2="1868.74" y2="1958.23" stroke="#4a4aff" stroke-width="2.3"/>
<line x1="1910.75" y1="1953.28" x2="2028.35" y2="1917.12" stroke="#4a4aff" stroke-width="2.3"/>
<line x1="2070.4" y1="1911.23" x2="2185.9" y2="1913.57" stroke="#4a4aff" stroke-width="2.3"/>
<line x1="2223.95" y1="1900.28" x2="2269.85" y2="1862.22" stroke="#4a4aff" stroke-width="2.3"/>
<polygon points="1494.8,1912.7 1478.3,1940.7 1511.3,1940.7" fill="#fff" stroke="#3c3cff" stroke-width="2.5" stroke-linejoin="miter"/>
<polygon points="1574.1,1944.7 1557.6,1972.7 1590.6,1972.7" fill="#fff" stroke="#3c3cff" stroke-width="2.5" stroke-linejoin="miter"/>
<polygon points="1732.2,1930.7 1715.7,1958.7 1748.7,1958.7" fill="#fff" stroke="#3c3cff" stroke-width="2.5" stroke-linejoin="miter"/>
<polygon points="1890.2,1940.8 1873.7,1968.8 1906.7,1968.8" fill="#fff" stroke="#3c3cff" stroke-width="2.5" stroke-linejoin="miter"/>
<polygon points="2048.9,1892 2032.4,1920 2065.4,1920" fill="#fff" stroke="#3c3cff" stroke-width="2.5" stroke-linejoin="miter"/>
<polygon points="2207.4,1895.2 2190.9,1923.2 2223.9,1923.2" fill="#fff" stroke="#3c3cff" stroke-width="2.5" stroke-linejoin="miter"/>
<polygon points="2286.4,1829.7 2269.9,1857.7 2302.9,1857.7" fill="#fff" stroke="#3c3cff" stroke-width="2.5" stroke-linejoin="miter"/>
<rect x="1423.3" y="1164" width="933.7" height="891" fill="none" stroke="#1e1e1e" stroke-width="3.5"/>
<line x1="1424.55" y1="2009.69" x2="1433.05" y2="2009.69" stroke="#1e1e1e" stroke-width="2.9"/>
<line x1="1424.55" y1="1975.45" x2="1433.05" y2="1975.45" stroke="#1e1e1e" stroke-width="2.9"/>
<line x1="1424.55" y1="1947.48" x2="1433.05" y2="1947.48" stroke="#1e1e1e" stroke-width="2.9"/>
<line x1="1424.55" y1="1923.83" x2="1433.05" y2="1923.83" stroke="#1e1e1e" stroke-width="2.9"/>
<line x1="1424.55" y1="1903.34" x2="1433.05" y2="1903.34" stroke="#1e1e1e" stroke-width="2.9"/>
<line x1="1424.55" y1="1885.27" x2="1433.05" y2="1885.27" stroke="#1e1e1e" stroke-width="2.9"/>
<line x1="1424.55" y1="1869.1" x2="1439.05" y2="1869.1" stroke="#1e1e1e" stroke-width="2.9"/>
<line x1="1424.55" y1="1762.75" x2="1433.05" y2="1762.75" stroke="#1e1e1e" stroke-width="2.9"/>
<line x1="1424.55" y1="1700.53" x2="1433.05" y2="1700.53" stroke="#1e1e1e" stroke-width="2.9"/>
<line x1="1424.55" y1="1656.39" x2="1433.05" y2="1656.39" stroke="#1e1e1e" stroke-width="2.9"/>
<line x1="1424.55" y1="1622.15" x2="1433.05" y2="1622.15" stroke="#1e1e1e" stroke-width="2.9"/>
<line x1="1424.55" y1="1594.18" x2="1433.05" y2="1594.18" stroke="#1e1e1e" stroke-width="2.9"/>
<line x1="1424.55" y1="1570.53" x2="1433.05" y2="1570.53" stroke="#1e1e1e" stroke-width="2.9"/>
<line x1="1424.55" y1="1550.04" x2="1433.05" y2="1550.04" stroke="#1e1e1e" stroke-width="2.9"/>
<line x1="1424.55" y1="1531.97" x2="1433.05" y2="1531.97" stroke="#1e1e1e" stroke-width="2.9"/>
<line x1="1424.55" y1="1515.8" x2="1439.05" y2="1515.8" stroke="#1e1e1e" stroke-width="2.9"/>
<line x1="1424.55" y1="1409.45" x2="1433.05" y2="1409.45" stroke="#1e1e1e" stroke-width="2.9"/>
<line x1="1424.55" y1="1347.23" x2="1433.05" y2="1347.23" stroke="#1e1e1e" stroke-width="2.9"/>
<line x1="1424.55" y1="1303.09" x2="1433.05" y2="1303.09" stroke="#1e1e1e" stroke-width="2.9"/>
<line x1="1424.55" y1="1268.85" x2="1433.05" y2="1268.85" stroke="#1e1e1e" stroke-width="2.9"/>
<line x1="1424.55" y1="1240.88" x2="1433.05" y2="1240.88" stroke="#1e1e1e" stroke-width="2.9"/>
<line x1="1424.55" y1="1217.23" x2="1433.05" y2="1217.23" stroke="#1e1e1e" stroke-width="2.9"/>
<line x1="1424.55" y1="1196.74" x2="1433.05" y2="1196.74" stroke="#1e1e1e" stroke-width="2.9"/>
<line x1="1424.55" y1="1178.67" x2="1433.05" y2="1178.67" stroke="#1e1e1e" stroke-width="2.9"/>
<line x1="1494.4" y1="2053.75" x2="1494.4" y2="2039.25" stroke="#1e1e1e" stroke-width="2.9"/>
<text x="1494.9" y="2113.8" font-size="54" font-weight="bold" text-anchor="middle" letter-spacing="4.0" >0</text>
<line x1="1652.92" y1="2053.75" x2="1652.92" y2="2039.25" stroke="#1e1e1e" stroke-width="2.9"/>
<text x="1653.42" y="2113.8" font-size="54" font-weight="bold" text-anchor="middle" letter-spacing="4.0" >20</text>
<line x1="1811.44" y1="2053.75" x2="1811.44" y2="2039.25" stroke="#1e1e1e" stroke-width="2.9"/>
<text x="1811.94" y="2113.8" font-size="54" font-weight="bold" text-anchor="middle" letter-spacing="4.0" >40</text>
<line x1="1969.96" y1="2053.75" x2="1969.96" y2="2039.25" stroke="#1e1e1e" stroke-width="2.9"/>
<text x="1970.46" y="2113.8" font-size="54" font-weight="bold" text-anchor="middle" letter-spacing="4.0" >60</text>
<line x1="2128.48" y1="2053.75" x2="2128.48" y2="2039.25" stroke="#1e1e1e" stroke-width="2.9"/>
<text x="2128.98" y="2113.8" font-size="54" font-weight="bold" text-anchor="middle" letter-spacing="4.0" >80</text>
<line x1="2287" y1="2053.75" x2="2287" y2="2039.25" stroke="#1e1e1e" stroke-width="2.9"/>
<text x="2287.5" y="2113.8" font-size="54" font-weight="bold" text-anchor="middle" letter-spacing="4.0" >100</text>
<text x="1322.5" y="1889.4" font-size="54" font-weight="bold" text-anchor="start" letter-spacing="2">10</text>
<text x="1386.19" y="1858.9" font-size="34" font-weight="bold" text-anchor="start" >3</text>
<text x="1322.5" y="1536.1" font-size="54" font-weight="bold" text-anchor="start" letter-spacing="2">10</text>
<text x="1386.19" y="1505.6" font-size="34" font-weight="bold" text-anchor="start" >4</text>
<text x="1406.75" y="1223.3" font-size="97" font-weight="bold" text-anchor="end" >(d)</text>
<text transform="translate(1286.5,1729.2) rotate(-90)" font-size="78" font-weight="bold"><tspan x="-1.1" font-family="'Liberation Serif', serif" font-weight="normal" font-size="71">η</tspan><tspan x="43.6" dy="-10.6" font-size="67">*</tspan><tspan x="70" dy="10.6"> </tspan><tspan x="92.8">(</tspan><tspan x="119.7">P</tspan><tspan x="170.2">a</tspan><tspan x="216.4">·</tspan><tspan x="237.5">s</tspan><tspan x="281.6">)</tspan></text>
<text x="1636.74" y="2195.9" font-size="54.5" font-weight="bold" text-anchor="start" letter-spacing="2.28">ABS content (%)</text>
<line x1="1446.6" y1="1215.5" x2="1486" y2="1215.5" stroke="#5a5a5a" stroke-width="2.6999999999999997"/>
<line x1="1530" y1="1215.5" x2="1566.1" y2="1215.5" stroke="#5a5a5a" stroke-width="2.6999999999999997"/>
<rect x="1495.5" y="1203" width="25" height="25" fill="#fff" stroke="#a8a8a8" stroke-width="2.5"/>
<text y="1231.4" font-size="50" font-weight="bold" ><tspan x="1581.85">240 </tspan><tspan x="1679.9" font-size="55" font-weight="normal" dy="-2.8">°</tspan><tspan x="1701.85" dy="2.8">C</tspan></text>
<line x1="1446.6" y1="1289.5" x2="1486" y2="1289.5" stroke="#ffa0a0" stroke-width="2.6999999999999997"/>
<line x1="1530" y1="1289.5" x2="1566.1" y2="1289.5" stroke="#ffa0a0" stroke-width="2.6999999999999997"/>
<circle cx="1508" cy="1289.5" r="14.0" fill="#fff" stroke="#ff3444" stroke-width="2.5"/>
<text y="1306.1" font-size="50" font-weight="bold" ><tspan x="1581.85">250 </tspan><tspan x="1679.9" font-size="55" font-weight="normal" dy="-2.8">°</tspan><tspan x="1701.85" dy="2.8">C</tspan></text>
<line x1="1446.6" y1="1362" x2="1486" y2="1362" stroke="#c8c8ff" stroke-width="2.6999999999999997"/>
<line x1="1530" y1="1362" x2="1566.1" y2="1362" stroke="#c8c8ff" stroke-width="2.6999999999999997"/>
<polygon points="1508,1343.2 1491.5,1371.2 1524.5,1371.2" fill="#fff" stroke="#3c3cff" stroke-width="2.5" stroke-linejoin="miter"/>
<text y="1378.3" font-size="50" font-weight="bold" ><tspan x="1581.85">260 </tspan><tspan x="1679.9" font-size="55" font-weight="normal" dy="-2.8">°</tspan><tspan x="1701.85" dy="2.8">C</tspan></text>
</g>
</svg>
</body></html>
